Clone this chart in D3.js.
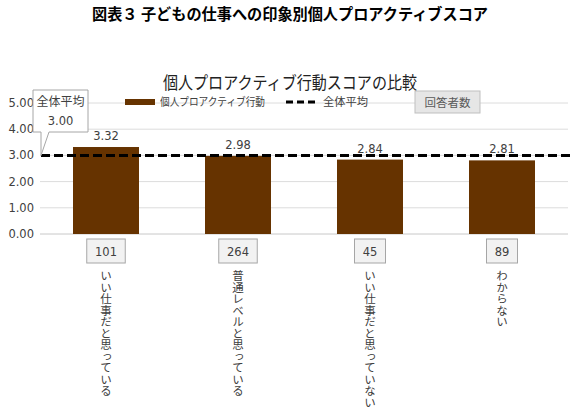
<!DOCTYPE html>
<html>
<head>
<meta charset="utf-8">
<script src="https://cdn.jsdelivr.net/npm/d3@7"></script>
<style>
  body { margin: 0; background: #fff; }
  svg { display: block; }
</style>
</head>
<body>
<div id="chart"></div>
<script>
var categories = ["いい仕事だと思っている", "普通レベルと思っている", "いい仕事だと思っていない", "わからない"];
var scores = [3.32, 2.98, 2.84, 2.81];
var counts = [101, 264, 45, 89];
var overallAvg = 3.00;
var yTicks = [0, 1, 2, 3, 4, 5];

var jp = "'Noto Sans CJK JP', sans-serif";
var num = "'DejaVu Sans', sans-serif";

var width = 573, height = 411;
var margin = {top: 102, left: 40, right: 5, bottom: 176};

var svg = d3.select("#chart").append("svg")
    .attr("width", width)
    .attr("height", height);

// main title
svg.append("text")
    .attr("x", 92).attr("y", 20)
    .attr("textLength", 396).attr("lengthAdjust", "spacingAndGlyphs")
    .style("font-family", jp).style("font-weight", "bold").style("font-size", "15.5px")
    .text("図表３ 子どもの仕事への印象別個人プロアクティブスコア");

// chart title
svg.append("text")
    .attr("x", 163).attr("y", 89)
    .attr("textLength", 254).attr("lengthAdjust", "spacingAndGlyphs")
    .style("font-family", jp).style("font-size", "17.5px").attr("fill", "#222")
    .text("個人プロアクティブ行動スコアの比較");

var x = d3.scaleBand()
    .domain(categories)
    .range([margin.left, width - margin.right])
    .paddingInner(0.5).paddingOuter(0.25);

var y = d3.scaleLinear()
    .domain([0, 5])
    .range([height - margin.bottom - 1, margin.top + 1]);

// gridlines
svg.append("g").selectAll("line")
    .data(yTicks)
    .enter().append("line")
    .attr("x1", margin.left).attr("x2", width - margin.right)
    .attr("y1", d => y(d)).attr("y2", d => y(d))
    .attr("stroke", d => d === 0 ? "#c8c8c8" : "#dcdcdc")
    .attr("stroke-width", 1);

// y labels
svg.append("g").selectAll("text")
    .data(yTicks)
    .enter().append("text")
    .attr("x", 34).attr("y", d => y(d) + 4)
    .attr("text-anchor", "end")
    .style("font-family", num).style("font-size", "11.5px").attr("fill", "#404040")
    .text(d => d.toFixed(2));

// legend (drawn before bars so gridline sits behind)
var lg = svg.append("g");
lg.append("rect").attr("x", 125).attr("y", 99).attr("width", 30).attr("height", 6).attr("fill", "#663300");
lg.append("text").attr("x", 160).attr("y", 106)
    .attr("textLength", 105).attr("lengthAdjust", "spacingAndGlyphs")
    .style("font-family", jp).style("font-size", "11px").attr("fill", "#404040")
    .text("個人プロアクティブ行動");
lg.append("line").attr("x1", 286).attr("x2", 316).attr("y1", 102).attr("y2", 102)
    .attr("stroke", "#000").attr("stroke-width", 3).attr("stroke-dasharray", "7,4");
lg.append("text").attr("x", 323).attr("y", 106)
    .attr("textLength", 45).attr("lengthAdjust", "spacingAndGlyphs")
    .style("font-family", jp).style("font-size", "11px").attr("fill", "#404040")
    .text("全体平均");
lg.append("rect").attr("x", 415).attr("y", 91).attr("width", 65).attr("height", 22)
    .attr("fill", "#e6e6e6").attr("stroke", "#bfbfbf");
lg.append("text").attr("x", 447.5).attr("y", 106.5).attr("text-anchor", "middle")
    .style("font-family", jp).style("font-size", "11.5px").attr("fill", "#595959")
    .text("回答者数");

// bars
svg.append("g").selectAll("rect")
    .data(scores)
    .enter().append("rect")
    .attr("x", (d, i) => x(categories[i]))
    .attr("y", d => y(d))
    .attr("width", x.bandwidth())
    .attr("height", d => y(0) - y(d))
    .attr("fill", "#663300");

// value labels
svg.append("g").selectAll("text")
    .data(scores)
    .enter().append("text")
    .attr("x", (d, i) => x(categories[i]) + x.bandwidth() / 2)
    .attr("y", d => y(d) - 7)
    .attr("text-anchor", "middle")
    .style("font-family", num).style("font-size", "11.5px").attr("fill", "#404040")
    .text(d => d.toFixed(2));

// average line
svg.append("line")
    .attr("x1", margin.left + 1).attr("x2", width)
    .attr("y1", y(overallAvg)).attr("y2", y(overallAvg))
    .attr("stroke", "#000").attr("stroke-width", 3)
    .attr("stroke-dasharray", "9,4");

// callout for average
var cx0 = 33, cy0 = 90, cw = 55, ch = 42;
svg.append("path")
    .attr("d", "M" + cx0 + "," + cy0 + " h" + cw + " v" + ch + " h" + (-(cw - 16)) +
        " L" + (margin.left + 1) + "," + y(overallAvg) + " L" + (cx0 + 8) + "," + (cy0 + ch) +
        " h-8 Z")
    .attr("fill", "#fff").attr("stroke", "#a6a6a6").attr("stroke-width", 1);
svg.append("text")
    .attr("x", cx0 + cw / 2).attr("y", cy0 + 16)
    .attr("text-anchor", "middle")
    .style("font-family", jp).style("font-size", "12px").attr("fill", "#404040")
    .text("全体平均");
svg.append("text")
    .attr("x", cx0 + cw / 2).attr("y", cy0 + 35)
    .attr("text-anchor", "middle")
    .style("font-family", num).style("font-size", "11.5px").attr("fill", "#404040")
    .text(overallAvg.toFixed(2));

// count boxes
var cg = svg.append("g").selectAll("g")
    .data(counts)
    .enter().append("g")
    .attr("transform", (d, i) => "translate(" + (x(categories[i]) + x.bandwidth() / 2) + ",0)");
cg.append("rect")
    .attr("x", d => -(String(d).length * 7.5 + 16) / 2)
    .attr("y", 239)
    .attr("width", d => String(d).length * 7.5 + 16)
    .attr("height", 24)
    .attr("fill", "#f2f2f2").attr("stroke", "#a6a6a6");
cg.append("text")
    .attr("y", 255.5)
    .attr("text-anchor", "middle")
    .style("font-family", num).style("font-size", "11.5px").attr("fill", "#404040")
    .text(d => d);

// vertical category labels
svg.append("g").selectAll("text")
    .data(categories)
    .enter().append("text")
    .attr("x", d => x(d) + x.bandwidth() / 2)
    .attr("y", 270)
    .style("writing-mode", "vertical-rl")
    .style("text-orientation", "upright")
    .style("font-family", jp).style("font-size", "11.5px").attr("fill", "#404040")
    .text(d => d);
</script>
</body>
</html>
